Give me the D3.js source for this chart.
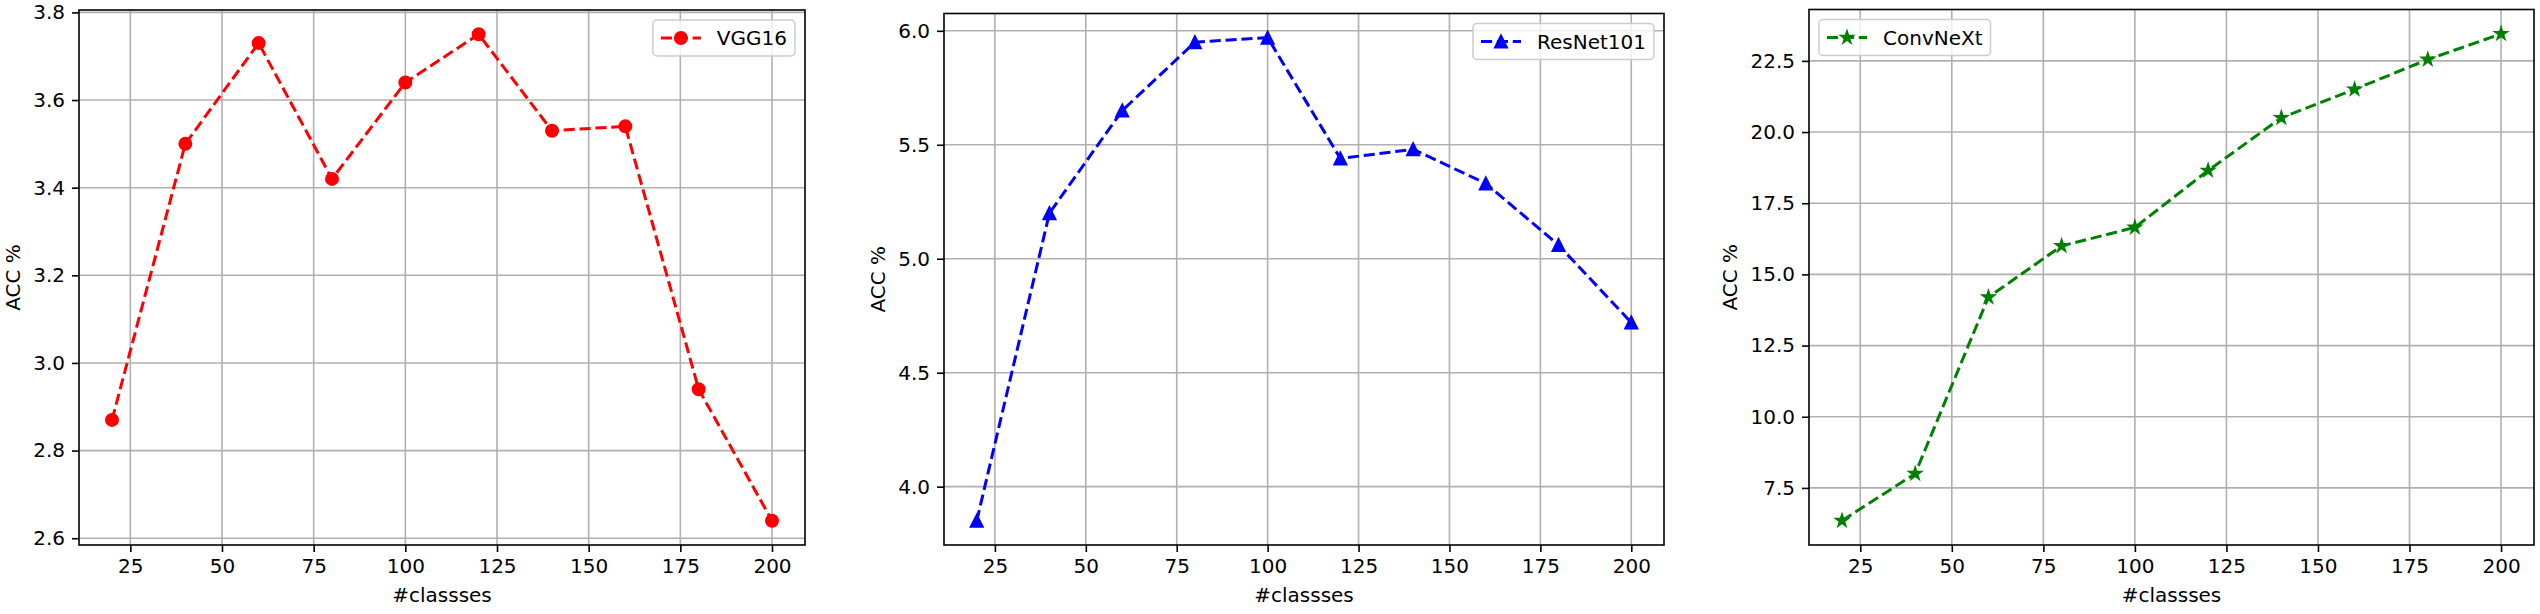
<html>
<meta charset="utf-8">
<script src="https://d3js.org/d3.v7.min.js"></script>
<style>
  body { margin: 0; background: #fff; }
  text { font-family: "DejaVu Sans", sans-serif; fill: #000; }
</style>
<div id="chart"></div>

<script>
// data
const classes = [20, 40, 60, 80, 100, 120, 140, 160, 180, 200]
const vggAcc = [2.87, 3.50, 3.73, 3.42, 3.64, 3.75, 3.53, 3.54, 2.94, 2.64]
const resnetAcc = [3.85, 5.20, 5.65, 5.95, 5.97, 5.44, 5.48, 5.33, 5.06, 4.72]
const convnextAcc = [6.35, 8.0, 14.2, 16.0, 16.65, 18.65, 20.5, 21.5, 22.55, 23.45]

const xTicks = [25, 50, 75, 100, 125, 150, 175, 200]
const vggTicks = [2.6, 2.8, 3.0, 3.2, 3.4, 3.6, 3.8]
const resnetTicks = [4.0, 4.5, 5.0, 5.5, 6.0]
const convnextTicks = [7.5, 10.0, 12.5, 15.0, 17.5, 20.0, 22.5]

const seriesNames = ["VGG16", "ResNet101", "ConvNeXt"]

let width = 2540,
    height = 614,
    bottom = 545

let panels = [
  {name: seriesNames[0], values: vggAcc, ticks: vggTicks, color: "#ff0000", marker: "circle",
   left: 79, right: 805, top: 10, legend: "right"},
  {name: seriesNames[1], values: resnetAcc, ticks: resnetTicks, color: "#0000ff", marker: "triangle",
   left: 944, right: 1664, top: 13.5, legend: "right"},
  {name: seriesNames[2], values: convnextAcc, ticks: convnextTicks, color: "#008000", marker: "star",
   left: 1809, right: 2534, top: 9.5, legend: "left"}
]

let svg = d3.select("#chart")
  .append("svg")
    .attr("width", width)
    .attr("height", height)

// matplotlib-like marker paths, size 6pt -> 12px
function markerPath(kind) {
  let r = 6
  if (kind == "circle") {
    let p = d3.path()
    p.arc(0, 0, r, 0, 2 * Math.PI)
    return p.toString()
  }
  if (kind == "triangle") {
    return "M0," + (-r) + "L" + (-r) + "," + r + "L" + r + "," + r + "Z"
  }
  // five point star
  let pts = []
  for (let i = 0; i < 10; i++) {
    let rad = i % 2 == 0 ? r : r * 0.381966
    let a = -Math.PI / 2 + i * Math.PI / 5
    pts.push([rad * Math.cos(a), rad * Math.sin(a)])
  }
  return "M" + pts.map(p => p.join(",")).join("L") + "Z"
}

// autoscale with 5% margins like matplotlib
function padded(ext) {
  let m = (ext[1] - ext[0]) * 0.05
  return [ext[0] - m, ext[1] + m]
}

panels.forEach(function(p) {
  let x = d3.scaleLinear()
    .domain(padded(d3.extent(classes)))
    .range([p.left, p.right])
  let y = d3.scaleLinear()
    .domain(padded(d3.extent(p.values)))
    .range([bottom, p.top])

  let g = svg.append("g")

  // grid
  g.selectAll(".vgrid")
    .data(xTicks)
    .enter()
    .append("line")
      .attr("x1", d => x(d)).attr("x2", d => x(d))
      .attr("y1", p.top).attr("y2", bottom)
      .attr("stroke", "#b0b0b0")
      .attr("stroke-width", 1.6)
  g.selectAll(".hgrid")
    .data(p.ticks)
    .enter()
    .append("line")
      .attr("x1", p.left).attr("x2", p.right)
      .attr("y1", d => y(d)).attr("y2", d => y(d))
      .attr("stroke", "#b0b0b0")
      .attr("stroke-width", 1.6)

  // axes
  let xAxis = g.append("g")
    .attr("transform", "translate(0," + bottom + ")")
    .call(d3.axisBottom(x).tickValues(xTicks).tickFormat(d3.format("d"))
      .tickSize(7).tickPadding(7).tickSizeOuter(0))
  let yAxis = g.append("g")
    .attr("transform", "translate(" + p.left + ",0)")
    .call(d3.axisLeft(y).tickValues(p.ticks).tickFormat(d3.format(".1f"))
      .tickSize(7).tickPadding(7).tickSizeOuter(0))

  ;[xAxis, yAxis].forEach(function(a) {
    a.select(".domain").remove()
    a.selectAll(".tick line").attr("stroke", "#000").attr("stroke-width", 1.6)
    a.selectAll(".tick text")
      .attr("font-size", "20px")
      .attr("font-family", "DejaVu Sans")
      .attr("fill", "#000")
  })

  // data line
  let line = d3.line()
    .x((d, i) => x(classes[i]))
    .y(d => y(d))

  g.append("path")
    .datum(p.values)
    .attr("d", line)
    .attr("fill", "none")
    .attr("stroke", p.color)
    .attr("stroke-width", 3)
    .attr("stroke-dasharray", "11.1,4.8")

  g.selectAll(".mk")
    .data(p.values)
    .enter()
    .append("path")
      .attr("d", markerPath(p.marker))
      .attr("transform", (d, i) => "translate(" + x(classes[i]) + "," + y(d) + ")")
      .attr("fill", p.color)
      .attr("stroke", p.color)
      .attr("stroke-width", 2)
      .attr("stroke-linejoin", "miter")

  // spines
  g.append("rect")
    .attr("x", p.left)
    .attr("y", p.top)
    .attr("width", p.right - p.left)
    .attr("height", bottom - p.top)
    .attr("fill", "none")
    .attr("stroke", "#000")
    .attr("stroke-width", 1.6)

  // axis labels
  g.append("text")
    .attr("x", (p.left + p.right) / 2)
    .attr("y", 602)
    .attr("text-anchor", "middle")
    .attr("font-size", "20px")
    .text("#classses")

  let labelW = d3.max(yAxis.selectAll(".tick text").nodes(), n => n.getComputedTextLength())
  let lx = p.left - 14 - labelW - 13
  g.append("text")
    .attr("transform", "translate(" + lx + "," + ((p.top + bottom) / 2) + ") rotate(-90)")
    .attr("text-anchor", "middle")
    .attr("font-size", "20px")
    .text("ACC %")

  // legend
  let leg = g.append("g")
  let box = leg.append("rect")
  let label = leg.append("text")
    .attr("font-size", "20px")
    .text(p.name)
  let tw = label.node().getComputedTextLength()
  let bw = 8 + 40 + 16 + tw + 8,
      bh = 36
  let bx = p.legend == "right" ? p.right - 10 - bw : p.left + 10
  let by = p.top + 10
  box.attr("x", bx).attr("y", by)
    .attr("width", bw).attr("height", bh)
    .attr("rx", 4)
    .attr("fill", "#fff")
    .attr("fill-opacity", 0.8)
    .attr("stroke", "#cccccc")
    .attr("stroke-width", 1.5)
  leg.append("line")
    .attr("x1", bx + 8).attr("x2", bx + 48)
    .attr("y1", by + bh / 2).attr("y2", by + bh / 2)
    .attr("stroke", p.color)
    .attr("stroke-width", 3)
    .attr("stroke-dasharray", "11.1,4.8")
  leg.append("path")
    .attr("d", markerPath(p.marker))
    .attr("transform", "translate(" + (bx + 28) + "," + (by + bh / 2) + ")")
    .attr("fill", p.color)
    .attr("stroke", p.color)
    .attr("stroke-width", 2)
  label.attr("x", bx + 64).attr("y", by + bh / 2 + 7)
  label.raise()
})
</script>
</html>
